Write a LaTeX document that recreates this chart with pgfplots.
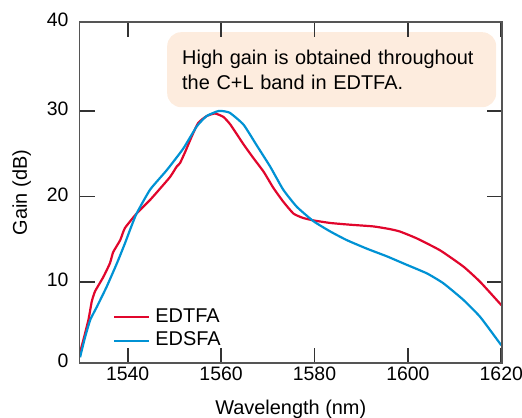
\documentclass[border=0pt]{standalone}
\usepackage{pgfplots}
\pgfplotsset{compat=1.18}
\usepackage{fontspec}
\setmainfont{Liberation Sans}
\definecolor{cred}{RGB}{225,6,44}
\definecolor{cblue}{RGB}{0,146,212}
\definecolor{boxfill}{RGB}{253,236,222}
\definecolor{framegray}{RGB}{85,85,85}

\pgfplotstableread{
x y
1529.7 1.6
1530.5 3.2
1531.6 5.6
1532.3 7.7
1533.0 8.9
1534.8 10.6
1536.2 12.2
1536.9 13.5
1538.4 14.9
1539.4 16.3
1541.9 18.0
1544.8 19.6
1546.9 20.9
1549.1 22.3
1550.5 23.5
1551.2 23.9
1552.3 25.2
1553.7 27.0
1555.1 28.6
1556.9 29.4
1558.7 29.7
1560.5 29.3
1562.0 28.4
1564.8 26.1
1566.9 24.5
1569.1 22.9
1571.2 21.0
1573.3 19.4
1575.5 18.0
1577.5 17.5
1579.8 17.2
1583.4 16.9
1587.6 16.7
1592.6 16.5
1596.0 16.2
1598.3 15.9
1601.9 15.1
1606.9 13.7
1611.9 11.8
1615.5 10.0
1620.0 7.3
}\edtfa

\pgfplotstableread{
x y
1529.8 1.2
1530.9 3.6
1532.0 5.6
1533.4 7.1
1535.5 9.45
1537.7 12.2
1539.4 14.5
1540.5 16.1
1541.9 18.0
1544.8 20.8
1548.4 23.1
1551.9 25.6
1554.8 28.2
1556.9 29.4
1559.5 30.0
1561.8 29.8
1564.8 28.4
1567.6 26.0
1570.5 23.5
1573.3 20.8
1576.2 18.8
1579.8 17.1
1583.4 15.9
1586.9 14.9
1591.2 13.9
1595.5 13.0
1599.8 12.0
1604.1 11.0
1607.6 9.85
1611.9 7.9
1615.5 5.9
1620.0 2.6
}\edsfa

\begin{document}
\begin{tikzpicture}
\begin{axis}[
  at={(0,0)}, anchor=south west,
  scale only axis,
  width=422.5bp, height=341bp,
  xmin=1529.68, xmax=1620.15,
  ymin=0.53, ymax=40.4,
  axis on top,
  axis line style={draw=framegray, line width=1.3bp},
  xtick={1540,1560,1580,1600,1620},
  ytick={0.53,10,20,30,40.4},
  yticklabels={0,10,20,30,40},
  tick align=inside,
  major tick length=15bp,
  tick style={draw=black!80, line width=1.8bp},
  /pgf/number format/assume math mode=true,
  /pgf/number format/1000 sep={},
  tick label style={font=\fontsize{19.5}{22}\selectfont, text=black},
  yticklabel style={xshift=-7.5bp, yshift=2bp},
  xlabel={Wavelength (nm)},
  ylabel={Gain (dB)},
  xlabel style={font=\fontsize{20}{24}\selectfont, at={(axis description cs:0.5,-0.137)}, anchor=center},
  ylabel style={font=\fontsize{20}{24}\selectfont, at={(axis description cs:-0.1368,0.5)}, anchor=center, rotate=0},
  legend cell align=left,
  legend image code/.code={\draw[#1] (0bp,0bp) -- (35bp,0bp);},
  legend style={draw=none, fill=none, at={(axis description cs:0.0793,0.1)}, anchor=west,
    font=\fontsize{20}{24}\selectfont, inner sep=0pt, row sep=0pt,
    nodes={inner xsep=5bp, inner ysep=1.75bp, text height=15bp, text depth=5bp}},
]
\addplot[cred, line width=2.2bp, line join=round, smooth, tension=0.3] table[x=x,y=y] {\edtfa};
\addlegendentry{EDTFA}
\addplot[cblue, line width=2.2bp, line join=round, smooth, tension=0.3] table[x=x,y=y] {\edsfa};
\addlegendentry{EDSFA}
\node[anchor=north west, fill=boxfill, rounded corners=14bp, inner xsep=15bp, inner ysep=0pt,
  text width=299bp, minimum height=75bp, align=left,
  font=\fontsize{20}{24.7}\selectfont] at (rel axis cs:0.2071,0.9707)
  {High gain is obtained throughout\\the C+L band in EDTFA.};
\end{axis}
\pgfresetboundingbox
\path[use as bounding box] (-79.5bp,-55bp) rectangle (442.5bp,363bp);
\end{tikzpicture}
\end{document}
